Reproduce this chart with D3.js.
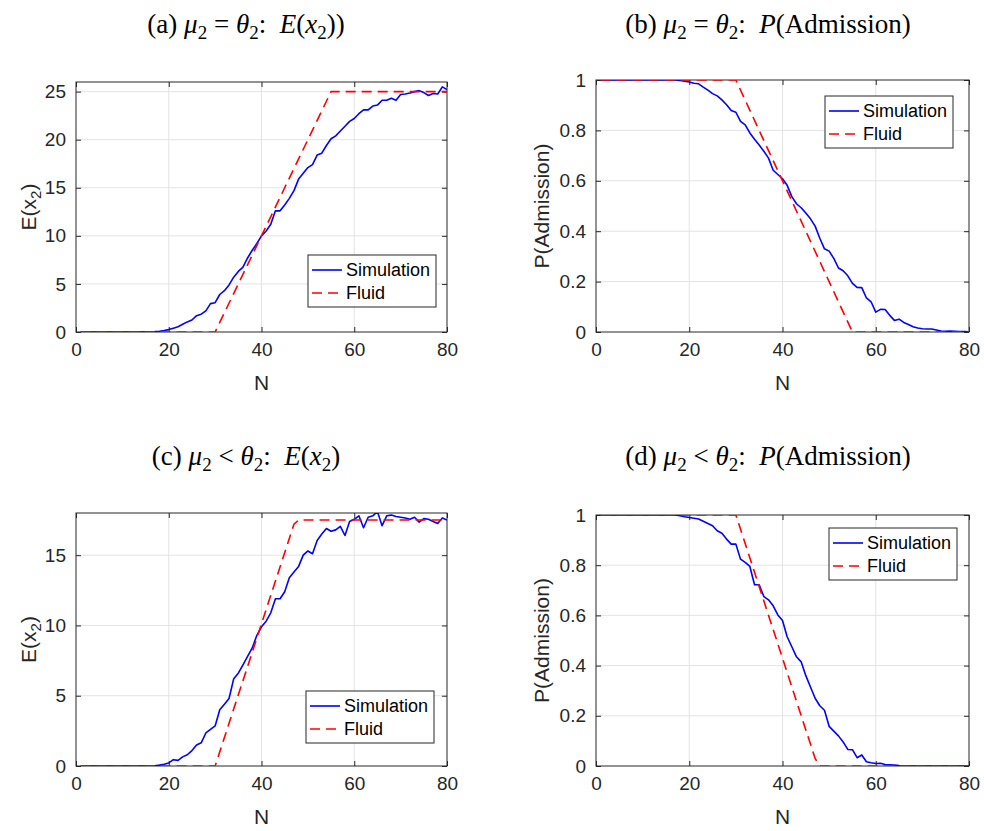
<!DOCTYPE html>
<html>
<head>
<meta charset="utf-8">
<script src="https://cdn.jsdelivr.net/npm/d3@7"></script>
<style>
  body { margin: 0; background: #fff; }
  svg { display: block; }
  .tick text { font-family: "Liberation Sans", Arial, sans-serif; font-size: 19px; fill: #262626; }
  .lbl { font-family: "Liberation Sans", Arial, sans-serif; font-size: 21px; fill: #262626; }
  .ttl { font-family: "Liberation Serif", "DejaVu Serif", serif; font-size: 27px; fill: #000; }
  .leg { font-family: "Liberation Sans", Arial, sans-serif; font-size: 18px; fill: #000; }
</style>
</head>
<body>
<svg id="chart" width="984" height="831"></svg>
<script>
// N = 1..80
const nValues = d3.range(1, 81);

// simulated E(x2), mu2 = theta2
const simA = [0,0,0,0,0,0,0,0,0,0,0,0,0,0,0.01,0.02,
  0.04,0.08,0.15,0.25,0.4,0.55,0.8,1.05,1.25,1.7,1.85,2.2,2.95,3.05,3.9,4.3,4.9,5.7,6.3,6.75,
  7.7,8.5,9.2,10.0,10.5,11.2,12.6,12.6,13.2,13.9,14.7,15.9,16.5,17.1,17.4,18.4,18.6,19.4,20.1,20.4,
  20.9,21.4,21.9,22.2,22.7,23.1,23.1,23.5,23.6,24.1,24.1,24.3,24.1,24.7,24.75,24.85,25.0,25.1,24.9,24.6,
  24.8,24.75,25.5,25.2];
// simulated P(Admission), mu2 = theta2
const simB = [1,1,1,1,1,1,1,1,1,1,1,1,1,1,1,1,1,
  0.998,0.995,0.992,0.987,0.985,0.972,0.96,0.946,0.937,0.921,0.902,0.879,0.872,0.836,0.822,0.79,0.765,0.742,0.717,
  0.69,0.642,0.625,0.608,0.582,0.537,0.509,0.493,0.472,0.449,0.42,0.372,0.33,0.321,0.292,0.254,0.243,0.223,0.193,
  0.177,0.176,0.135,0.12,0.079,0.09,0.089,0.066,0.046,0.051,0.038,0.03,0.021,0.016,0.013,0.012,0.012,0.008,0.004,
  0.003,0.004,0.003,0.002,0.002,0.001];
// simulated E(x2), mu2 < theta2
const simC = [0,0,0,0,0,0,0,0,0,0,0,0,0,0,0,0,
  0.02,0.06,0.12,0.22,0.45,0.4,0.65,0.8,1.1,1.5,1.65,2.35,2.6,2.85,4.0,4.4,4.8,6.2,6.6,7.2,
  7.8,8.4,9.3,9.9,10.3,10.9,11.9,11.9,12.4,13.4,13.8,14.2,15.0,15.3,15.1,16.05,16.5,16.9,16.7,16.8,
  17.05,16.4,17.4,17.55,17.8,16.95,17.7,17.8,18.1,17.1,17.8,17.85,17.75,17.7,17.65,17.55,17.7,17.35,17.6,17.55,
  17.4,17.25,17.65,17.5];
// simulated P(Admission), mu2 < theta2
const simD = [1,1,1,1,1,1,1,1,1,1,1,1,1,1,1,1,1,
  0.997,0.993,0.99,0.987,0.984,0.975,0.966,0.957,0.937,0.927,0.904,0.884,0.884,0.824,0.811,0.795,0.722,0.722,0.675,
  0.662,0.638,0.602,0.58,0.515,0.475,0.435,0.415,0.36,0.315,0.27,0.24,0.222,0.158,0.139,0.12,0.096,0.066,0.065,
  0.033,0.044,0.017,0.013,0.01,0.011,0.006,0.005,0.004,0.002,0.001,
  0,0,0,0,0,0,0,0,0,0,0,0,0,0];

// fluid model, breakpoints [N, value]
const fluidA = [[1, 0], [30, 0], [55, 25], [80, 25]];
const fluidB = [[1, 1], [30, 1], [55, 0], [80, 0]];
const fluidC = [[1, 0], [30, 0], [47, 17.2], [48, 17.5], [80, 17.5]];
const fluidD = [[1, 1], [30, 1], [47, 0.03], [48, 0], [80, 0]];

const xTicks = [0, 20, 40, 60, 80];
const eTicksA = [0, 5, 10, 15, 20, 25];
const eTicksC = [0, 5, 10, 15];
const pTicks = [0, 0.2, 0.4, 0.6, 0.8, 1];
const legendNames = ["Simulation", "Fluid"];

// title pieces: [text, italic, subscript]
const titleA = [["(a) ", 0, 0], ["μ", 1, 0], ["2", 0, 1], [" = ", 0, 0], ["θ", 1, 0], ["2", 0, 1], [":  ", 0, 0], ["E", 1, 0], ["(", 0, 0], ["x", 1, 0], ["2", 0, 1], ["))", 0, 0]];
const titleB = [["(b) ", 0, 0], ["μ", 1, 0], ["2", 0, 1], [" = ", 0, 0], ["θ", 1, 0], ["2", 0, 1], [":  ", 0, 0], ["P", 1, 0], ["(Admission)", 0, 0]];
const titleC = [["(c) ", 0, 0], ["μ", 1, 0], ["2", 0, 1], [" < ", 0, 0], ["θ", 1, 0], ["2", 0, 1], [":  ", 0, 0], ["E", 1, 0], ["(", 0, 0], ["x", 1, 0], ["2", 0, 1], [")", 0, 0]];
const titleD = [["(d) ", 0, 0], ["μ", 1, 0], ["2", 0, 1], [" < ", 0, 0], ["θ", 1, 0], ["2", 0, 1], [":  ", 0, 0], ["P", 1, 0], ["(Admission)", 0, 0]];
const ylabE = [["E(x", 0, 0], ["2", 0, 1], [")", 0, 0]];
const ylabP = [["P(Admission)", 0, 0]];

const svg = d3.select("#chart");

function pieces(textSel, parts, subSize, shift) {
  let shifted = false;
  parts.forEach(p => {
    const t = textSel.append("tspan").text(p[0]).style("white-space", "pre");
    if (p[1]) t.style("font-style", "italic");
    if (p[2]) { t.attr("dy", shifted ? 0 : shift).style("font-size", subSize); shifted = true; }
    else if (shifted) { t.attr("dy", -shift); shifted = false; }
  });
}

function panel(o) {
  const g = svg.append("g");
  const x = d3.scaleLinear().domain([0, 80]).range([o.l, o.r]);
  const y = d3.scaleLinear().domain(o.yDom).range([o.b, o.t]);
  const id = "clip" + o.key;

  svg.append("clipPath").attr("id", id)
    .append("rect").attr("x", o.l).attr("y", o.t).attr("width", o.r - o.l).attr("height", o.b - o.t);

  // grid
  g.append("g").selectAll("line").data(xTicks.slice(1, -1)).join("line")
    .attr("x1", d => x(d)).attr("x2", d => x(d)).attr("y1", o.t).attr("y2", o.b)
    .attr("stroke", "#e3e3e3").attr("stroke-width", 1);
  g.append("g").selectAll("line").data(o.yTicks.filter(d => y(d) > o.t + 1 && y(d) < o.b - 1)).join("line")
    .attr("x1", o.l).attr("x2", o.r).attr("y1", d => y(d)).attr("y2", d => y(d))
    .attr("stroke", "#e3e3e3").attr("stroke-width", 1);

  // axes, ticks inward, mirrored
  const ax = (a) => a.tickSizeInner(-5).tickSizeOuter(0).tickPadding(11);
  g.append("g").attr("transform", `translate(0,${o.b})`)
    .call(ax(d3.axisBottom(x).tickValues(xTicks).tickFormat(d3.format("d"))));
  g.append("g").attr("transform", `translate(0,${o.t})`)
    .call(ax(d3.axisTop(x).tickValues(xTicks).tickFormat("")));
  g.append("g").attr("transform", `translate(${o.l},0)`)
    .call(ax(d3.axisLeft(y).tickValues(o.yTicks).tickFormat(d => String(d))).tickPadding(10));
  g.append("g").attr("transform", `translate(${o.r},0)`)
    .call(ax(d3.axisRight(y).tickValues(o.yTicks).tickFormat("")));
  g.selectAll(".domain").remove();
  g.selectAll(".tick line").attr("stroke", "#262626");
  g.append("rect").attr("x", o.l).attr("y", o.t).attr("width", o.r - o.l).attr("height", o.b - o.t)
    .attr("fill", "none").attr("stroke", "#262626").attr("stroke-width", 1);

  // series
  const line = d3.line().x(d => x(d[0])).y(d => y(d[1]));
  const plot = g.append("g").attr("clip-path", `url(#${id})`);
  plot.append("path").datum(nValues.map((n, i) => [n, o.sim[i]]))
    .attr("d", line).attr("fill", "none").attr("stroke", "#0000ff").attr("stroke-width", 1.6)
    .attr("stroke-linejoin", "round");
  plot.append("path").datum(o.fluid)
    .attr("d", line).attr("fill", "none").attr("stroke", "#ff0000").attr("stroke-width", 1.6)
    .attr("stroke-dasharray", "10,6");

  // labels
  const tt = svg.append("text").attr("class", "ttl").attr("x", o.tx).attr("y", o.ty).attr("text-anchor", "middle");
  pieces(tt, o.title, "19px", 6);
  svg.append("text").attr("class", "lbl").attr("x", (o.l + o.r) / 2).attr("y", o.b + 58)
    .attr("text-anchor", "middle").text("N");
  const yl = svg.append("text").attr("class", "lbl").attr("text-anchor", "middle")
    .attr("transform", `translate(${o.yx},${(o.t + o.b) / 2}) rotate(-90)`);
  pieces(yl, o.ylab, "15px", 5);

  // legend
  const lg = svg.append("g").attr("transform", `translate(${o.lg[0]},${o.lg[1]})`);
  lg.append("rect").attr("width", 128).attr("height", 52).attr("fill", "#fff").attr("stroke", "#262626");
  legendNames.forEach((name, i) => {
    const yy = 15 + i * 23;
    lg.append("line").attr("x1", 4).attr("x2", 34).attr("y1", yy).attr("y2", yy)
      .attr("stroke", i ? "#ff0000" : "#0000ff").attr("stroke-width", 1.6)
      .attr("stroke-dasharray", i ? "10,6" : null);
    lg.append("text").attr("class", "leg").attr("x", 38).attr("y", yy + 6).text(name);
  });
}

panel({ key: "a", l: 76, r: 447, t: 82, b: 332, yDom: [0, 26], yTicks: eTicksA, sim: simA, fluid: fluidA,
  title: titleA, tx: 246, ty: 33, ylab: ylabE, yx: 36, lg: [308, 255] });
panel({ key: "b", l: 596, r: 969, t: 80, b: 332, yDom: [0, 1], yTicks: pTicks, sim: simB, fluid: fluidB,
  title: titleB, tx: 768, ty: 33, ylab: ylabP, yx: 549, lg: [825, 96] });
panel({ key: "c", l: 76, r: 447, t: 513, b: 766, yDom: [0, 18], yTicks: eTicksC, sim: simC, fluid: fluidC,
  title: titleC, tx: 246, ty: 465, ylab: ylabE, yx: 36, lg: [306, 691] });
panel({ key: "d", l: 596, r: 969, t: 515, b: 766, yDom: [0, 1], yTicks: pTicks, sim: simD, fluid: fluidD,
  title: titleD, tx: 768, ty: 465, ylab: ylabP, yx: 549, lg: [829, 528] });
</script>
</body>
</html>
